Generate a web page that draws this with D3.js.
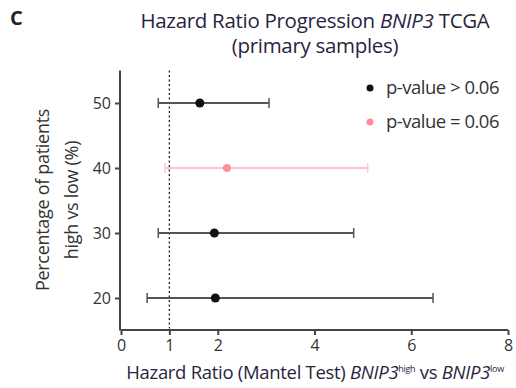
<!DOCTYPE html>
<html>
<head>
<meta charset="utf-8">
<script src="https://cdn.jsdelivr.net/npm/d3@7"></script>
<style>
  body { margin: 0; background: #fff; }
  text { font-family: "Open Sans", sans-serif; fill: #333; }
</style>
</head>
<body>
<svg id="chart" width="516" height="388"></svg>
<script>
// percentage of patients high vs low
var groups = [50, 40, 30, 20];
var hazard = [1.63, 2.19, 1.93, 1.95];
var ciLow = [0.77, 0.91, 0.77, 0.54];
var ciHigh = [3.06, 5.10, 4.81, 6.45];
var significant = [false, true, false, false];
var xTicks = [0, 1, 2, 4, 6, 8];
var yTicks = [20, 30, 40, 50];
var legendLabels = ["p-value > 0.06", "p-value = 0.06"];

var colors = { black: "#111", pinkLine: "#ffc4cb", pinkDot: "#ff8e9c", axis: "#444", bar: "#555" };

var svg = d3.select("#chart");

var x = d3.scaleLinear().domain([0, 8]).range([121, 508]);
var y = d3.scaleLinear().domain([15, 55]).range([330.5, 70.5]);

// panel letter + title
svg.append("text").attr("x", 10).attr("y", 25)
	.style("font-size", "20px").style("font-weight", "bold").style("fill", "#222")
	.text("C");

var title = svg.append("text").attr("x", 315).attr("y", 28)
	.attr("text-anchor", "middle").style("font-size", "20.5px").style("fill", "#2a2440")
	.style("letter-spacing", "-0.3px");
title.append("tspan").text("Hazard Ratio Progression ");
title.append("tspan").style("font-style", "italic").text("BNIP3");
title.append("tspan").text(" TCGA");
svg.append("text").attr("x", 315).attr("y", 53)
	.attr("text-anchor", "middle").style("font-size", "20.5px").style("fill", "#2a2440")
	.style("letter-spacing", "-0.3px")
	.text("(primary samples)");

// axes
var xAxis = d3.axisBottom(x).tickValues(xTicks).tickSize(5).tickFormat(d3.format("d"));
var yAxis = d3.axisLeft(y).tickValues(yTicks).tickSize(5);

var gx = svg.append("g").attr("transform", "translate(0,330)").call(xAxis);
var gy = svg.append("g").attr("transform", "translate(120,0)").call(yAxis);

[gx, gy].forEach(function(g) {
	g.select(".domain").attr("stroke", colors.axis).attr("stroke-width", 2);
	g.selectAll(".tick line").attr("stroke", colors.axis).attr("stroke-width", 2);
	g.selectAll(".tick text").style("font-size", "16px").style("font-family", "Open Sans, sans-serif").attr("fill", "#3a3a3a");
});
gx.select(".domain").attr("d", "M" + x(0) + ",0H" + x(8));
gy.select(".domain").attr("d", "M0," + y(55) + "V" + y(15));
gx.selectAll(".tick text").attr("dy", "0.8em");
gy.selectAll(".tick text").attr("dx", "-1px");

// reference line at HR = 1
svg.append("line")
	.attr("x1", x(1)).attr("x2", x(1))
	.attr("y1", y(55)).attr("y2", y(15.3))
	.attr("stroke", "#222").attr("stroke-width", 1.3).attr("stroke-dasharray", "2,2.5");

// error bars
var rows = groups.map(function(g, i) {
	return { g: g, hr: hazard[i], lo: ciLow[i], hi: ciHigh[i], sig: significant[i] };
});

var bars = svg.append("g").selectAll("g").data(rows).enter().append("g");
bars.append("line")
	.attr("x1", function(d) { return x(d.lo); })
	.attr("x2", function(d) { return x(d.hi); })
	.attr("y1", function(d) { return y(d.g); })
	.attr("y2", function(d) { return y(d.g); })
	.attr("stroke", function(d) { return d.sig ? colors.pinkLine : colors.bar; })
	.attr("stroke-width", 2);
bars.selectAll(".cap").data(function(d) { return [d.lo, d.hi].map(function(v) { return { v: v, d: d }; }); })
	.enter().append("line")
	.attr("class", "cap")
	.attr("x1", function(c) { return x(c.v); })
	.attr("x2", function(c) { return x(c.v); })
	.attr("y1", function(c) { return y(c.d.g) - 5; })
	.attr("y2", function(c) { return y(c.d.g) + 5; })
	.attr("stroke", function(c) { return c.d.sig ? colors.pinkLine : colors.bar; })
	.attr("stroke-width", 1.5);
bars.append("circle")
	.attr("cx", function(d) { return x(d.hr); })
	.attr("cy", function(d) { return y(d.g); })
	.attr("r", function(d) { return d.sig ? 4 : 4.5; })
	.attr("fill", function(d) { return d.sig ? colors.pinkDot : colors.black; });

// legend
var legend = svg.append("g").selectAll("g").data(legendLabels).enter().append("g")
	.attr("transform", function(d, i) { return "translate(370," + (88 + i * 34) + ")"; });
legend.append("circle").attr("r", 3.5)
	.attr("fill", function(d, i) { return i ? colors.pinkDot : colors.black; });
legend.append("text").attr("x", 16).attr("dy", "0.35em")
	.style("font-size", "18.5px").style("fill", "#333").style("letter-spacing", "-0.5px")
	.text(function(d) { return d; });

// y axis label
var yl = svg.append("text").attr("transform", "translate(49,200) rotate(-90)")
	.attr("text-anchor", "middle").style("font-size", "18px").style("fill", "#333")
	.style("letter-spacing", "-0.3px");
yl.append("tspan").attr("x", 0).attr("dy", 0).text("Percentage of patients");
yl.append("tspan").attr("x", 0).attr("dy", 29).text("high vs low (%)");

// x axis label
var xl = svg.append("text").attr("x", 315).attr("y", 379)
	.attr("text-anchor", "middle").style("font-size", "18.5px").style("fill", "#2a2440")
	.style("letter-spacing", "-0.3px");
xl.append("tspan").text("Hazard Ratio (Mantel Test) ");
xl.append("tspan").style("font-style", "italic").text("BNIP3");
xl.append("tspan").attr("dy", -7).style("font-size", "9px").text("high");
xl.append("tspan").attr("dy", 7).text(" vs ");
xl.append("tspan").style("font-style", "italic").text("BNIP3");
xl.append("tspan").attr("dy", -7).style("font-size", "9px").text("low");
</script>
</body>
</html>
